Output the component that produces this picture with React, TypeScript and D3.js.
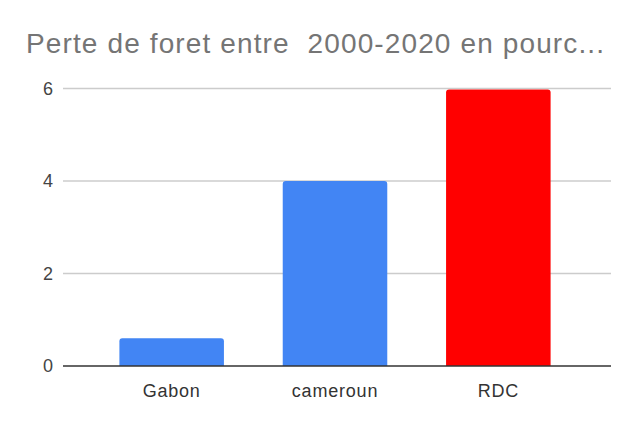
import React, { useRef, useEffect } from "react";
import * as d3 from "d3";

const categories = ["Gabon", "cameroun", "RDC"];
const values = [0.6, 4, 5.98];
const barColors = ["#4285f4", "#4285f4", "#ff0000"];
const yTicks = [0, 2, 4, 6];
const title = "Perte de foret entre  2000-2020 en pourc...";

const width = 631;
const height = 425;

export default function App() {
  const svgRef = useRef<SVGSVGElement>(null);

  useEffect(() => {
    if (!svgRef.current) return;
    const svg = d3.select(svgRef.current);
    svg.selectAll("*").remove();

    const font = "Arial, 'Liberation Sans', sans-serif";

    svg
      .append("rect")
      .attr("width", width)
      .attr("height", height)
      .attr("fill", "#ffffff");

    // title (keeps the double space)
    svg
      .append("text")
      .attr("x", 26)
      .attr("y", 53)
      .attr("font-family", font)
      .attr("font-size", 28)
      .attr("fill", "#757575")
      .attr("textLength", 578)
      .attr("lengthAdjust", "spacing")
      .style("white-space", "pre")
      .text(title);

    const x = d3
      .scaleBand<string>()
      .domain(categories)
      .range([90, 580])
      .paddingInner(0.36)
      .paddingOuter(0.18);
    const y = d3.scaleLinear().domain([0, 6]).range([366, 88.5]);

    // gridlines
    svg
      .append("g")
      .selectAll("line")
      .data(yTicks.filter((t) => t !== 0))
      .join("line")
      .attr("x1", 63)
      .attr("x2", 611)
      .attr("y1", (d) => y(d))
      .attr("y2", (d) => y(d))
      .attr("stroke", "#cccccc")
      .attr("stroke-width", 1.5);

    // y tick labels
    svg
      .append("g")
      .selectAll("text")
      .data(yTicks)
      .join("text")
      .attr("x", 53)
      .attr("y", (d) => y(d))
      .attr("dy", "0.35em")
      .attr("text-anchor", "end")
      .attr("font-family", font)
      .attr("font-size", 18)
      .attr("fill", "#444444")
      .text((d) => d);

    // bars with slightly rounded tops
    const r = 3;
    svg
      .append("g")
      .selectAll("path")
      .data(values)
      .join("path")
      .attr("fill", (_d, i) => barColors[i])
      .attr("d", (d, i) => {
        const x0 = x(categories[i])!;
        const x1 = x0 + x.bandwidth();
        const top = y(d);
        const bottom = y(0);
        return `M${x0},${bottom}V${top + r}Q${x0},${top} ${x0 + r},${top}H${x1 - r}Q${x1},${top} ${x1},${top + r}V${bottom}Z`;
      });

    // baseline
    svg
      .append("line")
      .attr("x1", 63)
      .attr("x2", 611)
      .attr("y1", y(0))
      .attr("y2", y(0))
      .attr("stroke", "#333333")
      .attr("stroke-width", 1.5);

    // x labels
    svg
      .append("g")
      .selectAll("text")
      .data(categories)
      .join("text")
      .attr("x", (d) => x(d)! + x.bandwidth() / 2)
      .attr("y", 397)
      .attr("text-anchor", "middle")
      .attr("font-family", font)
      .attr("font-size", 18)
      .attr("letter-spacing", 0.8)
      .attr("fill", "#333333")
      .text((d) => d);
  }, []);

  return (
    <div style={{ position: "fixed", left: 0, top: 0 }}>
      <svg ref={svgRef} width={width} height={height} />
    </div>
  );
}
